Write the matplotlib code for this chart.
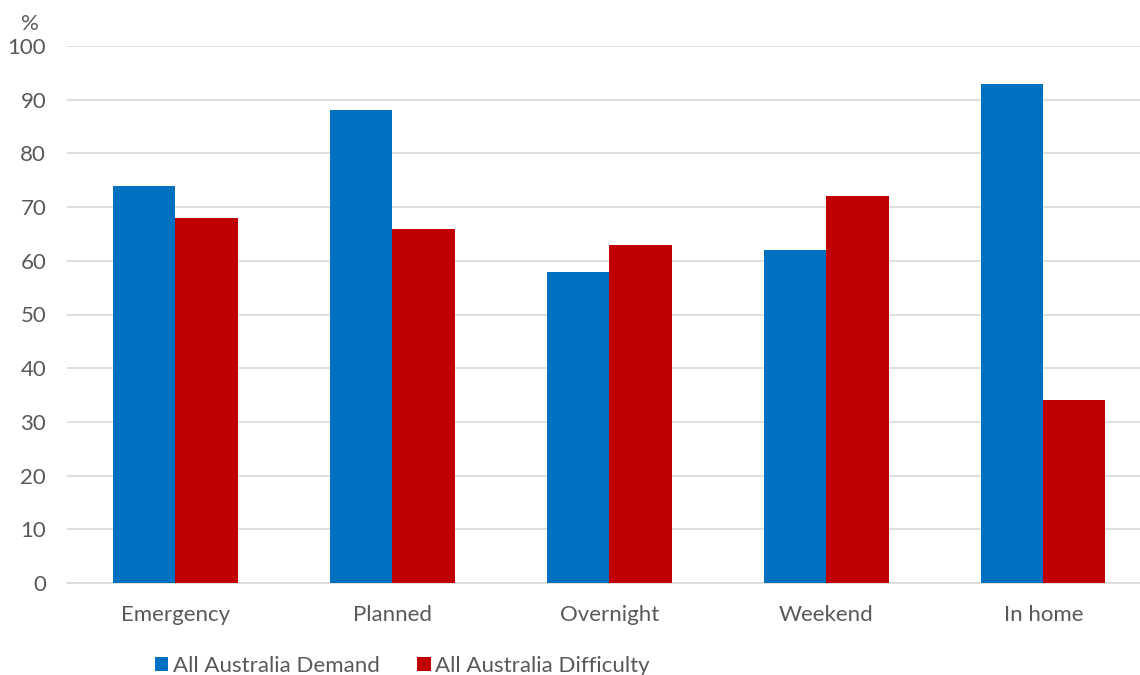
import matplotlib.pyplot as plt
import numpy as np

categories = ["Emergency", "Planned", "Overnight", "Weekend", "In home"]
demand = [74, 88, 58, 62, 93]
difficulty = [68, 66, 63, 72, 34]
yticks = [0, 10, 20, 30, 40, 50, 60, 70, 80, 90, 100]

plt.rcParams['font.family'] = ['Lato', 'DejaVu Sans']
txt = '#595959'

fig = plt.figure(figsize=(11.4, 6.75), dpi=100)
ax = fig.add_axes([67/1140, 1 - 583/675, 1 - 67/1140, (583 - 46)/675])

x = np.arange(len(categories))
w = 0.286
ax.bar(x - w/2, demand, w, color='#0070C0', label='All Australia Demand', zorder=3)
ax.bar(x + w/2, difficulty, w, color='#C00000', label='All Australia Difficulty', zorder=3)

ax.set_ylim(0, 100)
ax.set_xlim(-0.5, 4.445)
ax.set_yticks(yticks)
ax.set_xticks(x)
ax.set_xticklabels(categories)
ax.yaxis.grid(True, color='#D9D9D9', linewidth=1.2, zorder=0)
ax.tick_params(axis='both', length=0, labelsize=16, colors=txt)
ax.tick_params(axis='x', pad=16)
ax.tick_params(axis='y', pad=15)
for s in ['top', 'right', 'left']:
    ax.spines[s].set_visible(False)
ax.spines['bottom'].set_color('#D9D9D9')
ax.spines['bottom'].set_linewidth(1.2)

fig.text(30/1140, 1 - 24/675, '%', fontsize=16, color=txt, ha='center', va='center')

leg = fig.legend(loc='center left', bbox_to_anchor=(135/1140, 1 - 666/675), ncol=2,
                 frameon=False, fontsize=16, handlelength=0.6, handleheight=0.6,
                 handletextpad=0.2, columnspacing=1.7, labelcolor=txt)

fig.savefig('out.png', dpi=100)
